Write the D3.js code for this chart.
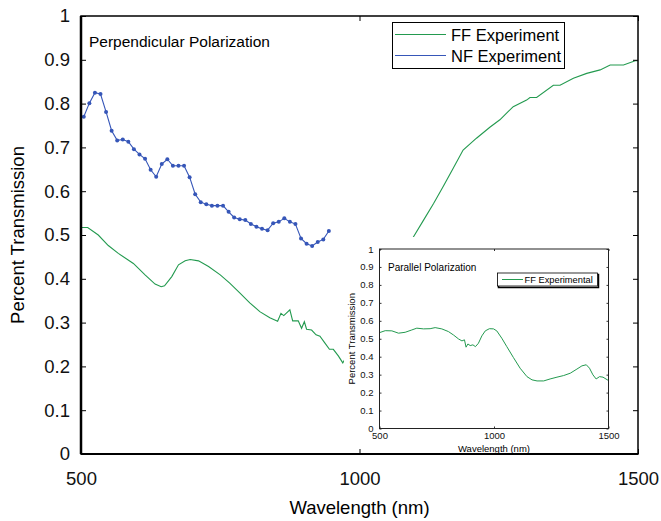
<!DOCTYPE html>
<html>
<head>
<meta charset="utf-8">
<script src="https://cdn.jsdelivr.net/npm/d3@7"></script>
<style>
  body { margin: 0; background: #fff; }
  svg { font-family: "Liberation Sans", Arial, sans-serif; }
</style>
</head>
<body>
<svg id="chart" width="661" height="521"></svg>
<script>
// ---------- data ----------
// NF experiment, perpendicular polarization (every 10 nm)
const nfWavelength = d3.range(505, 946, 10);
const nfValues = [0.770, 0.801, 0.825, 0.822, 0.781, 0.738, 0.716, 0.718, 0.713, 0.696,
  0.684, 0.674, 0.649, 0.633, 0.662, 0.673, 0.658, 0.658, 0.658, 0.632,
  0.593, 0.575, 0.570, 0.567, 0.567, 0.567, 0.553, 0.540, 0.536, 0.534,
  0.525, 0.519, 0.514, 0.511, 0.527, 0.530, 0.538, 0.530, 0.525, 0.492,
  0.480, 0.475, 0.484, 0.490, 0.509];

// FF experiment, perpendicular polarization
const ffWavelength = [501, 512, 531, 549, 567, 594, 615, 633, 644, 650, 663, 675, 687, 696, 711, 729,
  750, 767, 785, 803, 821, 839, 853, 859, 864, 875, 880, 890, 896, 901, 905, 914, 922, 929,
  938, 946, 953, 962, 970,
  1097, 1115, 1133, 1150, 1168, 1186, 1210, 1234, 1252, 1276, 1300, 1306, 1318, 1348, 1360,
  1384, 1408, 1432, 1450, 1474, 1495, 1500];
const ffValues = [0.517, 0.517, 0.500, 0.476, 0.458, 0.435, 0.409, 0.388, 0.382, 0.384, 0.405, 0.432, 0.441, 0.444, 0.441, 0.428,
  0.409, 0.390, 0.368, 0.345, 0.325, 0.311, 0.303, 0.321, 0.316, 0.329, 0.304, 0.304, 0.287, 0.302, 0.285, 0.283, 0.272, 0.269,
  0.253, 0.239, 0.239, 0.224, 0.208,
  0.496, 0.534, 0.572, 0.610, 0.652, 0.694, 0.721, 0.746, 0.763, 0.793, 0.808, 0.814, 0.814, 0.842, 0.842,
  0.858, 0.869, 0.877, 0.888, 0.888, 0.898, 0.898];

// FF experimental, parallel polarization (inset)
const parWavelength = [500, 525, 554, 583, 612, 641, 663, 692, 721, 743, 772, 801, 823, 845, 860, 871, 878, 886,
  896, 908, 919, 932, 947, 962, 980, 998, 1012, 1034, 1056, 1085, 1114, 1144, 1166, 1188, 1217,
  1245, 1275, 1304, 1333, 1362, 1384, 1403, 1417, 1432, 1446, 1461, 1476, 1500];
const parValues = [0.534, 0.545, 0.544, 0.531, 0.536, 0.549, 0.559, 0.555, 0.556, 0.562, 0.555, 0.540, 0.521, 0.499, 0.488, 0.494, 0.453, 0.471,
  0.462, 0.466, 0.456, 0.475, 0.516, 0.544, 0.556, 0.555, 0.544, 0.503, 0.456, 0.395, 0.336, 0.289, 0.271, 0.265, 0.265,
  0.276, 0.286, 0.295, 0.308, 0.331, 0.349, 0.355, 0.336, 0.299, 0.276, 0.289, 0.286, 0.267];

const xTicks = [500, 1000, 1500];
const yTicks = [0, 0.1, 0.2, 0.3, 0.4, 0.5, 0.6, 0.7, 0.8, 0.9, 1];
const legendLabels = ["FF Experiment", "NF Experiment"];

const green = "#239a4f";
const blue = "#3656b8";

const svg = d3.select("#chart");
const fmt = d => d === 0 ? "0" : d3.format("~g")(d);
const xfmt = d3.format("d");

// ---------- main plot ----------
const x = d3.scaleLinear().domain([500, 1500]).range([81, 638]);
const y = d3.scaleLinear().domain([0, 1]).range([454, 16]);

const ffPts = ffWavelength.map((w, i) => [w, ffValues[i]]);
const nfPts = nfWavelength.map((w, i) => [w, nfValues[i]]);

const line = d3.line().x(d => x(d[0])).y(d => y(d[1]));

svg.append("path").datum(ffPts)
  .attr("d", line).attr("fill", "none")
  .attr("stroke", green).attr("stroke-width", 1.1);

svg.append("path").datum(nfPts)
  .attr("d", line).attr("fill", "none")
  .attr("stroke", blue).attr("stroke-width", 1.1);

svg.append("g").selectAll("circle").data(nfPts).join("circle")
  .attr("cx", d => x(d[0])).attr("cy", d => y(d[1]))
  .attr("r", 2).attr("fill", blue);

svg.append("text").attr("x", 89).attr("y", 47)
  .attr("font-size", 15.5).text("Perpendicular Polarization");

// legend
const lg = svg.append("g");
lg.append("rect").attr("x", 392.5).attr("y", 22.5).attr("width", 172).attr("height", 46)
  .attr("fill", "#fff").attr("stroke", "#000").attr("stroke-width", 1);
lg.selectAll("line").data(legendLabels).join("line")
  .attr("x1", 395).attr("x2", 446)
  .attr("y1", (d, i) => 34.5 + i * 21).attr("y2", (d, i) => 34.5 + i * 21)
  .attr("stroke", (d, i) => i === 0 ? green : blue).attr("stroke-width", 1);
lg.selectAll("text").data(legendLabels).join("text")
  .attr("x", 451).attr("y", (d, i) => 40.5 + i * 21)
  .attr("font-size", 16.5).text(d => d);

// ---------- inset ----------
const ix = d3.scaleLinear().domain([500, 1500]).range([379.5, 608.5]);
const iy = d3.scaleLinear().domain([0, 1]).range([428.5, 249]);

svg.append("rect").attr("x", 344).attr("y", 237).attr("width", 294).attr("height", 217)
  .attr("fill", "#fff");

const parPts = parWavelength.map((w, i) => [w, parValues[i]]);
svg.append("path").datum(parPts)
  .attr("d", d3.line().x(d => ix(d[0])).y(d => iy(d[1])))
  .attr("fill", "none").attr("stroke", green).attr("stroke-width", 1);

const inset = svg.append("g").attr("font-size", 9);

inset.append("g").attr("transform", `translate(0,${iy(0)})`)
  .call(d3.axisBottom(ix).tickValues(xTicks).tickFormat(xfmt).tickSizeInner(-2).tickSizeOuter(0).tickPadding(4))
  .call(g => g.select(".domain").remove());
inset.append("g").attr("transform", `translate(0,${iy(1)})`)
  .call(d3.axisTop(ix).tickValues(xTicks).tickSizeInner(-2).tickSizeOuter(0).tickFormat(""))
  .call(g => g.select(".domain").remove());
inset.append("g").attr("transform", `translate(${ix(500)},0)`)
  .call(d3.axisLeft(iy).tickValues(yTicks).tickFormat(fmt).tickSizeInner(-2).tickSizeOuter(0).tickPadding(6))
  .call(g => g.select(".domain").remove());
inset.append("g").attr("transform", `translate(${ix(1500)},0)`)
  .call(d3.axisRight(iy).tickValues(yTicks).tickSizeInner(-2).tickSizeOuter(0).tickFormat(""))
  .call(g => g.select(".domain").remove());
inset.selectAll("text").attr("font-family", null).attr("font-size", 9.5).attr("fill", "#111");
inset.selectAll(".tick line").attr("stroke", "#333");

inset.append("rect").attr("x", ix(500)).attr("y", iy(1))
  .attr("width", ix(1500) - ix(500)).attr("height", iy(0) - iy(1))
  .attr("fill", "none").attr("stroke", "#222").attr("stroke-width", 1);

inset.append("text").attr("x", 388).attr("y", 271).attr("font-size", 10)
  .text("Parallel Polarization");
inset.append("text").attr("x", (ix(500) + ix(1500)) / 2).attr("y", 452)
  .attr("text-anchor", "middle").attr("font-size", 9.5).text("Wavelength (nm)");
inset.append("text")
  .attr("transform", `translate(355,${(iy(0) + iy(1)) / 2}) rotate(-90)`)
  .attr("text-anchor", "middle").attr("font-size", 9.5).text("Percent Transmission");

// inset legend
inset.append("rect").attr("x", 498.5).attr("y", 274.5).attr("width", 100).attr("height", 13)
  .attr("fill", "none").attr("stroke", "#000").attr("stroke-width", 1.5);
inset.append("rect").attr("x", 497.5).attr("y", 273).attr("width", 100).attr("height", 13)
  .attr("fill", "#fff").attr("stroke", "#000").attr("stroke-width", 0.8);
inset.append("line").attr("x1", 502).attr("x2", 523).attr("y1", 279.5).attr("y2", 279.5)
  .attr("stroke", green).attr("stroke-width", 1);
inset.append("text").attr("x", 524.5).attr("y", 283.3).attr("font-size", 9.3).text("FF Experimental");

// ---------- main axes on top ----------
const axes = svg.append("g");
axes.append("g").attr("transform", `translate(0,${y(0)})`)
  .call(d3.axisBottom(x).tickValues(xTicks).tickFormat(xfmt).tickSizeInner(-5).tickSizeOuter(0).tickPadding(18))
  .call(g => g.select(".domain").remove());
axes.append("g").attr("transform", `translate(${x(500)},0)`)
  .call(d3.axisLeft(y).tickValues(yTicks).tickFormat(fmt).tickSizeInner(-5).tickSizeOuter(0).tickPadding(11))
  .call(g => g.select(".domain").remove());
axes.append("g").attr("transform", `translate(${x(1500)},0)`)
  .call(d3.axisRight(y).tickValues(yTicks).tickSizeInner(-5).tickSizeOuter(0).tickFormat(""))
  .call(g => g.select(".domain").remove());
axes.append("g").attr("transform", `translate(0,${y(1)})`)
  .call(d3.axisTop(x).tickValues(xTicks).tickSizeInner(-5).tickSizeOuter(0).tickFormat(""))
  .call(g => g.select(".domain").remove());
axes.selectAll("text").attr("font-family", null).attr("font-size", 18.5).attr("fill", "#111");

axes.append("rect").attr("x", x(500)).attr("y", y(1))
  .attr("width", x(1500) - x(500)).attr("height", y(0) - y(1))
  .attr("fill", "none").attr("stroke", "#000").attr("stroke-width", 1.5);
axes.append("line").attr("x1", x(500)).attr("x2", x(500)).attr("y1", y(1)).attr("y2", y(0))
  .attr("stroke", "#000").attr("stroke-width", 2.5);
axes.append("line").attr("x1", x(500)).attr("x2", x(1500)).attr("y1", y(0)).attr("y2", y(0))
  .attr("stroke", "#000").attr("stroke-width", 2);

axes.append("text").attr("x", (x(500) + x(1500)) / 2).attr("y", 514)
  .attr("text-anchor", "middle").attr("font-size", 18.5).text("Wavelength (nm)");
axes.append("text")
  .attr("transform", `translate(24,${(y(0) + y(1)) / 2}) rotate(-90)`)
  .attr("text-anchor", "middle").attr("font-size", 18.5).text("Percent Transmission");
</script>
</body>
</html>
